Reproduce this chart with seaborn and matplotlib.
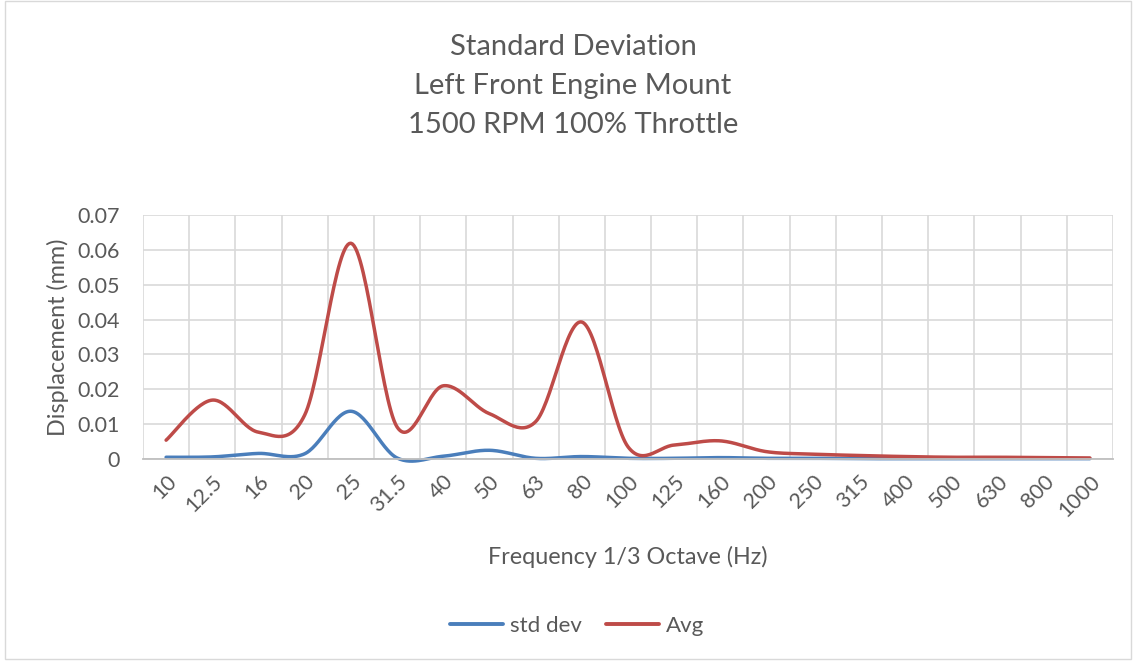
import numpy as np
import pandas as pd
import matplotlib
matplotlib.use("Agg")
import matplotlib.pyplot as plt
import seaborn as sns

# 1/3-octave band centre frequencies (Hz)
bands = ["10", "12.5", "16", "20", "25", "31.5", "40", "50", "63", "80", "100",
         "125", "160", "200", "250", "315", "400", "500", "630", "800", "1000"]

# Displacement (mm)
std_dev = [0.0005, 0.0006, 0.0016, 0.0015, 0.0137, 0.0003, 0.0008, 0.0025, 0.0002,
           0.0007, 0.0002, 0.0002, 0.0004, 0.0002, 0.0002, 0.0001, 0.0001, 0.0001,
           0.0001, 0.0001, 0.0001]
avg = [0.0054, 0.0169, 0.0077, 0.0126, 0.0619, 0.0092, 0.0210, 0.0130, 0.0107,
       0.0393, 0.0035, 0.0040, 0.0052, 0.0021, 0.0014, 0.0010, 0.0007, 0.0005,
       0.0005, 0.0004, 0.0003]

series_names = ["std dev", "Avg"]
series_colors = ["#4A7EBB", "#BE4B48"]


def smooth(y, steps=30):
    """Catmull-Rom style smoothing through every point (Bezier, tension 1/6)."""
    y = np.asarray(y, dtype=float)
    x = np.arange(len(y), dtype=float)
    px = np.concatenate([[x[0]], x, [x[-1]]])
    py = np.concatenate([[y[0]], y, [y[-1]]])
    xs, ys = [], []
    t = np.linspace(0, 1, steps, endpoint=False)
    for i in range(len(y) - 1):
        p0x, p1x, p2x, p3x = px[i], px[i + 1], px[i + 2], px[i + 3]
        p0y, p1y, p2y, p3y = py[i], py[i + 1], py[i + 2], py[i + 3]
        c1x, c1y = p1x + (p2x - p0x) / 6, p1y + (p2y - p0y) / 6
        c2x, c2y = p2x - (p3x - p1x) / 6, p2y - (p3y - p1y) / 6
        b0 = (1 - t) ** 3
        b1 = 3 * (1 - t) ** 2 * t
        b2 = 3 * (1 - t) * t ** 2
        b3 = t ** 3
        xs.append(b0 * p1x + b1 * c1x + b2 * c2x + b3 * p2x)
        ys.append(b0 * p1y + b1 * c1y + b2 * c2y + b3 * p2y)
    xs.append([x[-1]])
    ys.append([y[-1]])
    return np.concatenate(xs), np.concatenate(ys)


frames = []
for name, vals in zip(series_names, [std_dev, avg]):
    sx, sy = smooth(vals)
    frames.append(pd.DataFrame({"x": sx, "y": sy, "series": name}))
df = pd.concat(frames, ignore_index=True)

sns.set_theme(style="white")
plt.rcParams["font.family"] = ["Lato", "DejaVu Sans"]
text_color = "#595959"

fig = plt.figure(figsize=(11.36, 6.62), dpi=100)
ax = fig.add_axes([143 / 1136, (662 - 459) / 662, (1113 - 143) / 1136, (459 - 215) / 662])

sns.lineplot(data=df, x="x", y="y", hue="series", hue_order=series_names,
             palette=series_colors, linewidth=2.5, sort=False, estimator=None,
             legend=False, ax=ax)
for ln in ax.get_lines():
    ln.set_solid_capstyle("round")
    ln.set_clip_on(False)

n = len(bands)
ax.set_xlim(-0.5, n - 0.5)
ax.set_ylim(0, 0.07)

ax.set_xticks(range(n))
ax.set_xticklabels(bands, rotation=45, ha="right", rotation_mode="anchor",
                   fontsize=15.5, color=text_color)
ax.set_xticks(np.arange(-0.5, n, 1.0), minor=True)
yt = np.arange(0, 0.0701, 0.01)
ax.set_yticks(yt)
ax.set_yticklabels(["0"] + [f"{v:.2f}" for v in yt[1:]], fontsize=15.5, color=text_color)

ax.grid(False)
ax.grid(True, axis="y", which="major", color="#D9D9D9", linewidth=1.2)
ax.grid(True, axis="x", which="minor", color="#D9D9D9", linewidth=1.2)
ax.tick_params(axis="both", which="both", length=0)
ax.tick_params(axis="x", pad=9)
ax.tick_params(axis="y", pad=17)
for side in ["top", "right", "left"]:
    ax.spines[side].set_visible(False)
ax.spines["bottom"].set_color("#BFBFBF")
ax.spines["bottom"].set_linewidth(1.3)
ax.set_axisbelow(True)

ax.set_xlabel("Frequency 1/3 Octave (Hz)", fontsize=16.8, color=text_color, labelpad=18)
ax.set_ylabel("Displacement (mm)", fontsize=16.8, color=text_color, labelpad=6)

title_lines = ["Standard Deviation", "Left Front Engine Mount", "1500 RPM 100% Throttle"]
for i, line in enumerate(title_lines):
    fig.text(0.5045, 1 - (47 + 39 * i) / 662, line, ha="center", va="center",
             fontsize=21, color=text_color)

handles = [plt.Line2D([], [], color=c, linewidth=2.8, solid_capstyle="round")
           for c in series_colors]
fig.legend(handles, series_names, loc="center", bbox_to_anchor=(0.508, 1 - 626 / 662),
           ncol=2, frameon=False, fontsize=16, labelcolor=text_color,
           handlelength=2.4, handletextpad=0.3, columnspacing=1.1)

border = plt.Rectangle((0.004, 0.005), 0.992, 0.993, transform=fig.transFigure,
                       fill=False, edgecolor="#D9D9D9", linewidth=1.0)
fig.patches.append(border)

fig.savefig("out.png", dpi=100)
